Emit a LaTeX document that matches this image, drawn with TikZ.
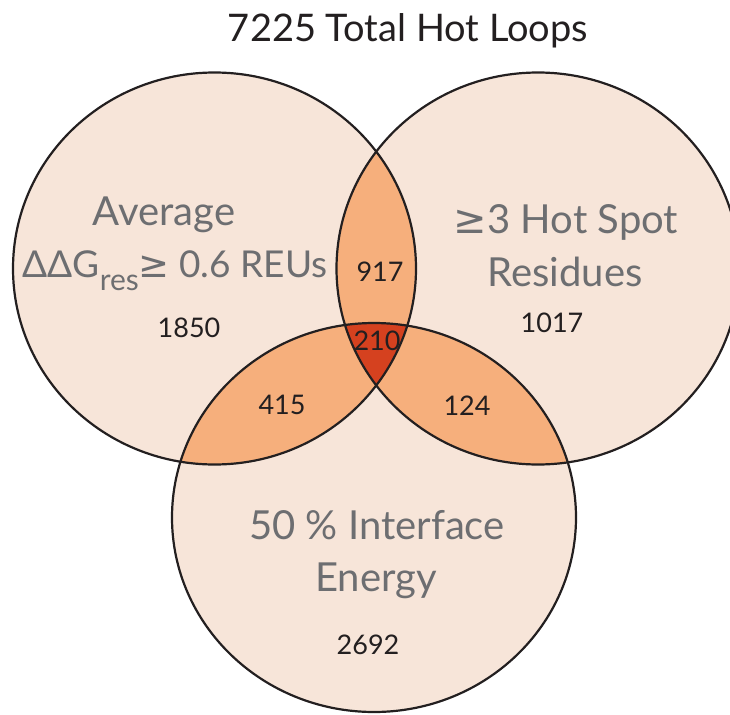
\documentclass[tikz,border=0pt]{standalone}
\usepackage{fontspec}
\setmainfont{Lato}
\newfontfamily\symfont{DejaVu Sans}
\definecolor{vennlight}{HTML}{F7E5D9}
\definecolor{vennmid}{HTML}{F6AF7C}
\definecolor{venndark}{HTML}{D5411F}
\definecolor{labelgray}{HTML}{6D6E71}
\definecolor{inkblack}{HTML}{231F20}
\begin{document}
\begin{tikzpicture}[x=1pt,y=-1pt,
  lbl/.style={text=labelgray, font=\fontsize{40}{40}\selectfont, inner sep=0pt, anchor=base},
  num/.style={text=inkblack, font=\fontsize{27}{27}\selectfont, inner sep=0pt, anchor=center},
  ttl/.style={text=inkblack, font=\fontsize{38}{38}\selectfont, inner sep=0pt, anchor=base},
  rim/.style={draw=inkblack, line width=2.2pt}]
\useasboundingbox (0,0) rectangle (730,714);

% base discs
\fill[vennlight] (214.5,268.5) ellipse [x radius=201.5pt, y radius=196pt];
\fill[vennlight] (538,268.5) ellipse [x radius=201.5pt, y radius=196pt];
\fill[vennlight] (374,517.5) ellipse [x radius=202pt, y radius=194.5pt];

% pairwise overlaps
\begin{scope}
  \clip (214.5,268.5) ellipse [x radius=201.5pt, y radius=196pt];
  \fill[vennmid] (538,268.5) ellipse [x radius=201.5pt, y radius=196pt];
  \fill[vennmid] (374,517.5) ellipse [x radius=202pt, y radius=194.5pt];
\end{scope}
\begin{scope}
  \clip (538,268.5) ellipse [x radius=201.5pt, y radius=196pt];
  \fill[vennmid] (374,517.5) ellipse [x radius=202pt, y radius=194.5pt];
\end{scope}

% triple overlap
\begin{scope}
  \clip (214.5,268.5) ellipse [x radius=201.5pt, y radius=196pt];
  \clip (538,268.5) ellipse [x radius=201.5pt, y radius=196pt];
  \fill[venndark] (374,517.5) ellipse [x radius=202pt, y radius=194.5pt];
\end{scope}

% outlines
\draw[rim] (214.5,268.5) ellipse [x radius=201.5pt, y radius=196pt];
\draw[rim] (538,268.5) ellipse [x radius=201.5pt, y radius=196pt];
\draw[rim] (374,517.5) ellipse [x radius=202pt, y radius=194.5pt];

% title
\node[ttl] (title) at (408,42) {7225 Total Hot Loops};

% set labels
\node[lbl] (avg) at (164,225) {Average};
\node[lbl, font=\fontsize{37}{37}\selectfont] (ddg) at (175,277)
  {ΔΔG\raisebox{-13pt}{\fontsize{30}{30}\selectfont res}{\symfont ≥} 0.6 REUs};
\node[lbl] (hot) at (566,233) {{\symfont ≥}3 Hot Spot};
\node[lbl] (res) at (565,286) {Residues};
\node[lbl] (ifc) at (377,539) {50 \% Interface};
\node[lbl] (nrg) at (376,591) {Energy};

% counts
\node[num] (nA) at (189,328) {1850};
\node[num] (nB) at (552,323) {1017};
\node[num] (nC) at (368,645) {2692};
\node[num] (nAB) at (380,272) {917};
\node[num] (nAC) at (282,405) {415};
\node[num] (nBC) at (467,406) {124};
\node[num] (nABC) at (377,341) {210};
\end{tikzpicture}
\end{document}
